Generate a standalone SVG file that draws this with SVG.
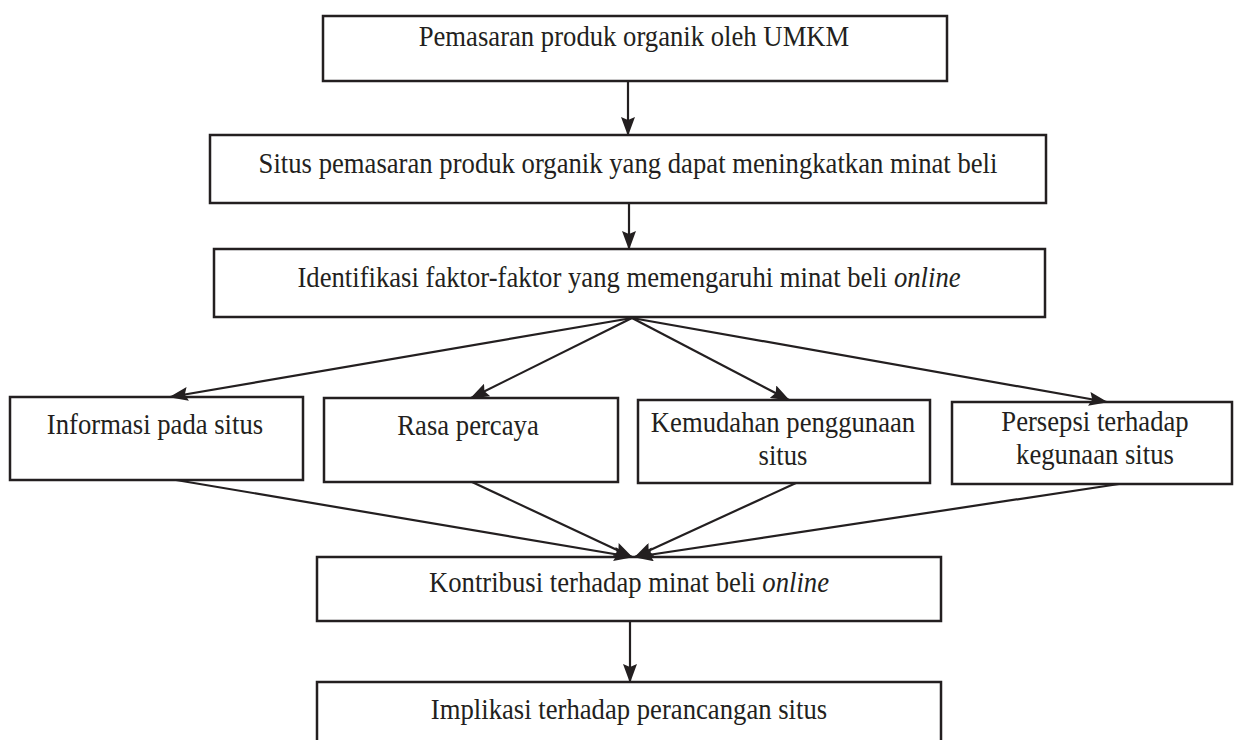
<svg xmlns="http://www.w3.org/2000/svg" width="1234" height="740" viewBox="0 0 1234 740">
<defs>
<marker id="ah" viewBox="0 0 19 14" markerWidth="19" markerHeight="14" refX="18" refY="7" orient="auto" markerUnits="userSpaceOnUse">
<path d="M0,0 L19,7 L0,14 L3,7 z" fill="#231f20"/>
</marker>
</defs>
<style>
.box{fill:#fff;stroke:#231f20;stroke-width:2.5}
.t{font-family:"Liberation Serif","Times New Roman",serif;font-size:29px;fill:#231f20;text-anchor:middle}
.i{font-style:italic}
.c{stroke:#231f20;stroke-width:2.2;fill:none;marker-end:url(#ah)}
</style>
<rect width="1234" height="740" fill="#fff"/>
<g id="n1"><rect class="box" x="323" y="16" width="624" height="65"/><text class="t" transform="translate(634,46) scale(0.92,1)">Pemasaran produk organik oleh UMKM</text></g>
<g id="n2"><rect class="box" x="210" y="135" width="836" height="68"/><text class="t" transform="translate(628,173) scale(0.92,1)">Situs pemasaran produk organik yang dapat meningkatkan minat beli</text></g>
<g id="n3"><rect class="box" x="214" y="249" width="831" height="68"/><text class="t" transform="translate(629,287) scale(0.92,1)">Identifikasi faktor-faktor yang memengaruhi minat beli <tspan class="i">online</tspan></text></g>
<g id="n4"><rect class="box" x="10" y="397" width="293" height="83"/><text class="t" transform="translate(155,434) scale(0.92,1)">Informasi pada situs</text></g>
<g id="n5"><rect class="box" x="324" y="398" width="294" height="84"/><text class="t" transform="translate(468,435) scale(0.92,1)">Rasa percaya</text></g>
<g id="n6"><rect class="box" x="638" y="400" width="292" height="83"/><text class="t" transform="translate(783,432) scale(0.92,1)">Kemudahan penggunaan</text><text class="t" transform="translate(783,465) scale(0.92,1)">situs</text></g>
<g id="n7"><rect class="box" x="952" y="402" width="280" height="82"/><text class="t" transform="translate(1095,431) scale(0.92,1)">Persepsi terhadap</text><text class="t" transform="translate(1095,464) scale(0.92,1)">kegunaan situs</text></g>
<g id="n8"><rect class="box" x="317" y="557" width="624" height="64"/><text class="t" transform="translate(629,592) scale(0.92,1)">Kontribusi terhadap minat beli <tspan class="i">online</tspan></text></g>
<g id="n9"><rect class="box" x="317" y="682" width="624" height="70"/><text class="t" transform="translate(629,719) scale(0.92,1)">Implikasi terhadap perancangan situs</text></g>
<g id="connectors">
<line class="c" x1="628" y1="81" x2="628" y2="135"/>
<line class="c" x1="629" y1="203" x2="629" y2="249"/>
<line class="c" x1="632" y1="318" x2="170" y2="397"/>
<line class="c" x1="632" y1="318" x2="471" y2="398"/>
<line class="c" x1="632" y1="318" x2="789" y2="400"/>
<line class="c" x1="632" y1="318" x2="1107" y2="402"/>
<line class="c" x1="176" y1="480" x2="632" y2="557"/>
<line class="c" x1="472" y1="482" x2="632" y2="557"/>
<line class="c" x1="796" y1="483" x2="635" y2="557"/>
<line class="c" x1="1119" y1="484" x2="635" y2="557"/>
<line class="c" x1="630" y1="621" x2="630" y2="682"/>
</g>
</svg>
